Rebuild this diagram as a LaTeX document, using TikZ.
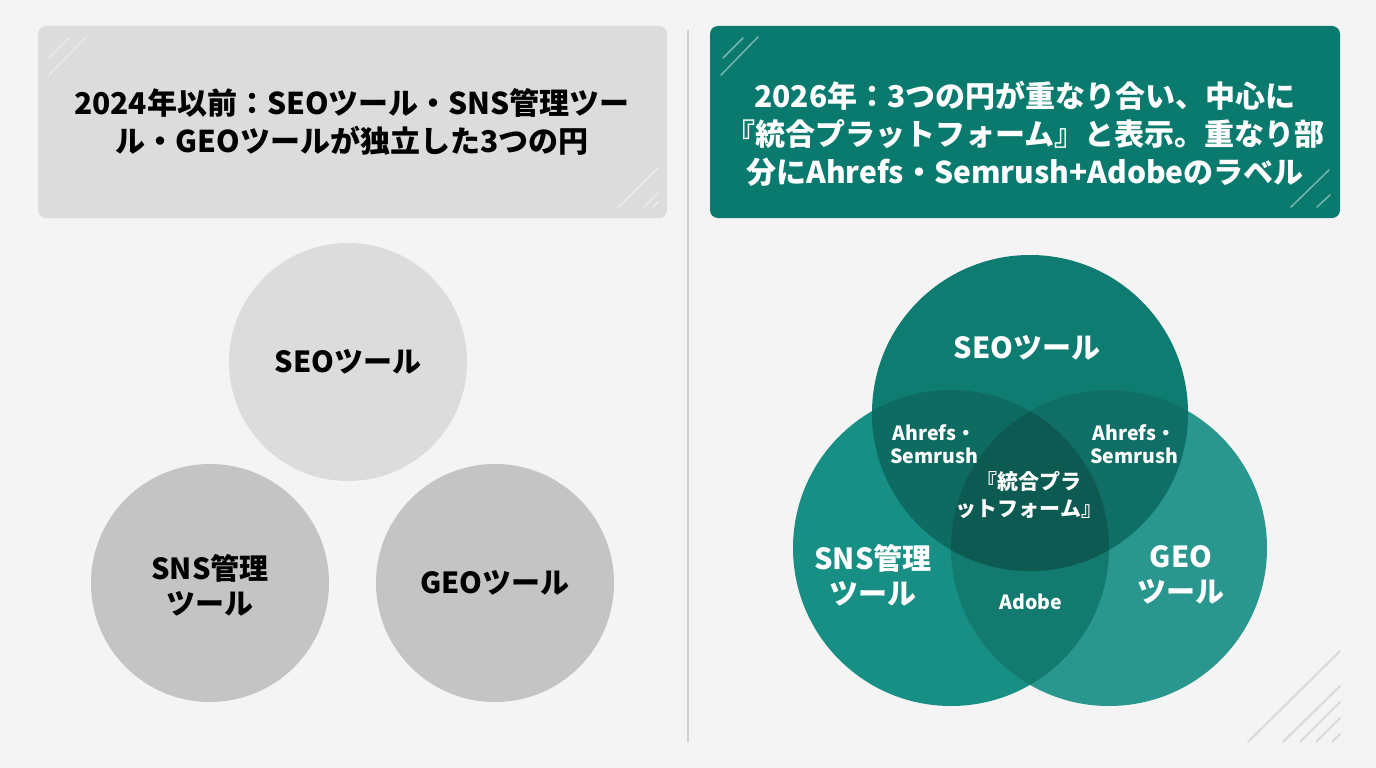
\documentclass[tikz,border=0pt]{standalone}
\usepackage{fontspec}
\newfontfamily\jp{Noto Sans CJK JP}
\definecolor{bgc}{HTML}{F4F4F4}
\definecolor{hdrgray}{HTML}{DCDCDC}
\definecolor{hdrteal}{HTML}{0A7A6E}
\definecolor{cseo}{HTML}{DCDCDC}
\definecolor{cother}{HTML}{C4C4C4}
\definecolor{vtop}{HTML}{0E7C71}
\definecolor{vleft}{HTML}{178F85}
\definecolor{vright}{HTML}{29978D}
\definecolor{vtl}{HTML}{0E6B62}
\definecolor{vtr}{HTML}{0F6F66}
\definecolor{vlr}{HTML}{137A70}
\definecolor{vall}{HTML}{0C5A52}
\definecolor{divc}{HTML}{CFCFCF}
\definecolor{decoc}{HTML}{D9D9D9}
\tikzset{
  hdrbox/.style={rounded corners=8pt, draw=none},
  hdrtext/.style={font=\jp\bfseries\fontsize{30}{38}\selectfont, align=center},
  circtext/.style={font=\jp\bfseries\fontsize{29}{35}\selectfont, align=center},
  smalltext/.style={font=\jp\bfseries\fontsize{19.5}{23}\selectfont, align=center, text=white},
  centertext/.style={font=\jp\bfseries\fontsize{21}{27}\selectfont, align=center, text=white},
  deco/.style={white, opacity=0.45, line width=1.5pt, line cap=round},
  corner/.style={decoc, line width=2pt, line cap=round},
}
\begin{document}
\begin{tikzpicture}[x=1pt,y=-1pt]
\useasboundingbox (0,0) rectangle (1376,768);
\fill[bgc] (0,0) rectangle (1376,768);
% divider
\draw[divc, line width=1.2pt] (688,30) -- (688,742);
% headers
\fill[hdrbox, hdrgray] (38,26) rectangle (667,218);
\fill[hdrbox, hdrteal] (710,26) rectangle (1340,218);
\coordinate (la1) at (49,75); \coordinate (la2) at (86,37);
\coordinate (lb1) at (49,58); \coordinate (lb2) at (69,38);
\draw[deco] (la1) -- (la2); \draw[deco] (lb1) -- (lb2);
\coordinate (lc1) at (619,207); \coordinate (lc2) at (658,168);
\coordinate (ld1) at (644,207); \coordinate (ld2) at (658,193);
\coordinate (le1) at (653,207); \coordinate (le2) at (658,202);
\draw[deco] (lc1) -- (lc2); \draw[deco] (ld1) -- (ld2); \draw[deco] (le1) -- (le2);
\coordinate (ra1) at (721,75); \coordinate (ra2) at (758,37);
\coordinate (rb1) at (723,58); \coordinate (rb2) at (743,38);
\draw[deco] (ra1) -- (ra2); \draw[deco] (rb1) -- (rb2);
\coordinate (rc1) at (1291,207); \coordinate (rc2) at (1329,170);
\coordinate (rd1) at (1317,207); \coordinate (rd2) at (1330,195);
\draw[deco] (rc1) -- (rc2); \draw[deco] (rd1) -- (rd2);
\node[hdrtext, text=black] (lhdr) at (352,122) {2024年以前：SEOツール・SNS管理ツー\\ル・GEOツールが独立した3つの円};
\node[hdrtext, text=white] (rhdr) at (1025,134) {2026年：3つの円が重なり合い、中心に\\『統合プラットフォーム』と表示。重なり部\\分にAhrefs・Semrush+Adobeのラベル};
% left circles
\fill[cseo] (348,362) circle (119);
\fill[cother] (210,583) circle (119);
\fill[cother] (495,583) circle (119);
\node[circtext] (lseo) at (348,362) {SEOツール};
\node[circtext] (lsns) at (210,585) {SNS管理\\ツール};
\node[circtext] (lgeo) at (495,583) {GEOツール};
% venn
\def\rr{158}
\coordinate (ct) at (1030,413);
\coordinate (cl) at (951,548);
\coordinate (cr) at (1109,548);
\fill[vright] (cr) circle (\rr);
\fill[vleft] (cl) circle (\rr);
\fill[vtop] (ct) circle (\rr);
\begin{scope}
  \clip (cl) circle (\rr);
  \fill[vlr] (cr) circle (\rr);
\end{scope}
\begin{scope}
  \clip (ct) circle (\rr);
  \fill[vtl] (cl) circle (\rr);
\end{scope}
\begin{scope}
  \clip (ct) circle (\rr);
  \fill[vtr] (cr) circle (\rr);
\end{scope}
\begin{scope}
  \clip (ct) circle (\rr);
  \clip (cl) circle (\rr);
  \fill[vall] (cr) circle (\rr);
\end{scope}
\node[circtext, text=white] (vseo) at (1027,348) {SEOツール};
\node[circtext, text=white] (vsns) at (873,575) {SNS管理\\ツール};
\node[circtext, text=white] (vgeo) at (1181,575) {GEO\\ツール};
\node[smalltext] (vtlab) at (934,444) {Ahrefs・\\Semrush};
\node[smalltext] (vtrab) at (1134,444) {Ahrefs・\\Semrush};
\node[centertext] (vcen) at (1029,495) {『統合プラ\\ットフォーム』};
\node[smalltext] (vado) at (1031,602) {Adobe};
% corner decoration
\coordinate (k1a) at (1248,742); \coordinate (k1b) at (1340,651);
\coordinate (k2a) at (1283,742); \coordinate (k2b) at (1340,686);
\coordinate (k3a) at (1300,742); \coordinate (k3b) at (1340,702);
\coordinate (k4a) at (1316,742); \coordinate (k4b) at (1340,718);
\coordinate (k5a) at (1332,742); \coordinate (k5b) at (1340,734);
\draw[corner] (k1a) -- (k1b); \draw[corner] (k2a) -- (k2b);
\draw[corner] (k3a) -- (k3b); \draw[corner] (k4a) -- (k4b);
\draw[corner] (k5a) -- (k5b);
\end{tikzpicture}
\end{document}
